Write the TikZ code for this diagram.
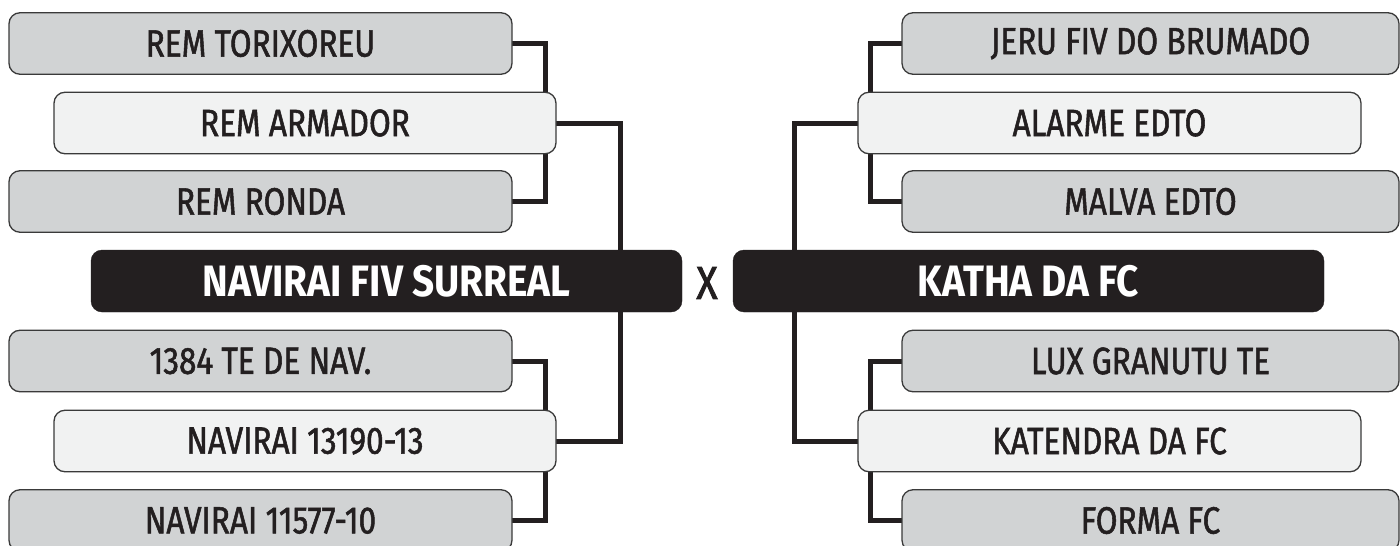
\documentclass[tikz,border=0pt]{standalone}
\usepackage{fontspec}
\newfontfamily\boxfont{Fira Sans}[FakeStretch=0.83,FakeBold=1.4]
\newfontfamily\navfont{Fira Sans}[FakeStretch=0.88,BoldFont={* Bold}]
\newfontfamily\vsfont{Fira Sans}[FakeStretch=0.85,FakeBold=1.8]
\usetikzlibrary{backgrounds}
\definecolor{boxgray}{HTML}{D1D3D4}
\definecolor{boxlight}{HTML}{F1F2F2}
\definecolor{ink}{HTML}{231F20}
\definecolor{edge}{HTML}{3A3A3A}
\tikzset{
  basebox/.style={rounded corners=11pt, draw=edge, line width=1.3pt, minimum height=61.5pt, inner sep=0pt, text=ink, font=\boxfont\fontsize{38}{40}\selectfont},
  gbox/.style={basebox, fill=boxgray, minimum width=503pt},
  lbox/.style={basebox, fill=boxlight, minimum width=502pt},
  bbox/.style={rounded corners=11pt, fill=ink, draw=ink, minimum height=62pt, minimum width=591pt, inner sep=0pt, text=white, font=\navfont\bfseries\fontsize{44}{46}\selectfont},
  conn/.style={draw=ink, line width=5pt, line join=miter, line cap=rect}
}
\begin{document}
\begin{tikzpicture}[x=1pt,y=-1pt]
\useasboundingbox (0,0) rectangle (1400,546);
\clip (0,0) rectangle (1400,546);
% left side
\node[gbox] (tor) at (260.5,43.5) {REM TORIXOREU};
\node[lbox] (arm) at (305,123) {REM ARMADOR};
\node[gbox] (ron) at (260.5,201.5) {REM RONDA};
\node[bbox] (nav) at (386.5,281) {NAVIRAI FIV SURREAL};
\node[gbox] (te) at (260.5,361) {1384 TE DE NAV.};
\node[lbox] (n131) at (305,441) {NAVIRAI 13190-13};
\node[gbox] (n115) at (260.5,520.5) {NAVIRAI 11577-10};
% vs
\node[text=ink, font=\vsfont\fontsize{46}{48}\selectfont, inner sep=0pt] (vs) at (707,283) {X};
% right side
\node[gbox, minimum width=497pt] (jeru) at (1150.5,43.5) {JERU FIV DO BRUMADO};
\node[lbox, minimum width=503pt] (ala) at (1109.5,123) {ALARME EDTO};
\node[gbox, minimum width=497pt] (mal) at (1150.5,201.5) {MALVA EDTO};
\node[bbox] (kat) at (1028.5,281) {KATHA DA FC};
\node[gbox, minimum width=497pt] (lux) at (1150.5,361) {LUX GRANUTU TE};
\node[lbox, minimum width=503pt] (ken) at (1109.5,441) {KATENDRA DA FC};
\node[gbox, minimum width=497pt] (for) at (1150.5,520.5) {FORMA FC};
% junction points
\coordinate (lb1) at (545,123);
\coordinate (lb2) at (545,441);
\coordinate (lc) at (620,281);
\coordinate (rb1) at (870,123);
\coordinate (rb2) at (870,441);
\coordinate (rc) at (794,281);
\begin{scope}[on background layer]
\draw[conn] (tor.east) -| (lb1);
\draw[conn] (ron.east) -| (lb1);
\draw[conn] (te.east) -| (lb2);
\draw[conn] (n115.east) -| (lb2);
\draw[conn] (arm.east) -| (lc);
\draw[conn] (n131.east) -| (lc);
\draw[conn] (jeru.west) -| (rb1);
\draw[conn] (mal.west) -| (rb1);
\draw[conn] (lux.west) -| (rb2);
\draw[conn] (for.west) -| (rb2);
\draw[conn] (ala.west) -| (rc);
\draw[conn] (ken.west) -| (rc);
\end{scope}
\end{tikzpicture}
\end{document}
